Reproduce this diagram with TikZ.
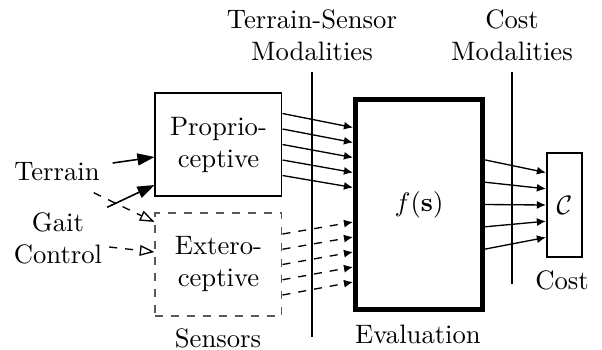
\documentclass[tikz,border=0pt]{standalone}
\usetikzlibrary{arrows.meta,calc}

\begin{document}
\begin{tikzpicture}[x=0.375pt, y=-0.375pt,
  sensor/.style={rectangle, draw, line width=0.6pt, minimum width=47.4pt, minimum height=38.8pt, align=center, inner sep=0pt},
  evalbox/.style={rectangle, draw, line width=1.9pt, minimum width=47.6pt, minimum height=78.75pt, inner sep=0pt},
  costbox/.style={rectangle, draw, line width=0.6pt, minimum width=13.3pt, minimum height=39.2pt, inner sep=0pt},
  lbl/.style={align=center, inner sep=0pt},
  feed/.style={-{Latex[length=3.4pt,width=3pt]}, line width=0.5pt},
  bigarr/.style={-{Triangle[length=6.4pt,width=4.5pt]}, line width=0.6pt},
  openarr/.style={dashed, -{Triangle[open,length=5.5pt,width=4pt]}, line width=0.5pt}
]
  \useasboundingbox (0,0) rectangle (602,349);

  % headers and separators
  \node[lbl] (tsmod) at (312,35) {Terrain-Sensor\\Modalities};
  \node[lbl] (cmod) at (512,35) {Cost\\Modalities};
  \draw[line width=0.5pt] (312,72) -- (312,337);
  \draw[line width=0.5pt] (512,72) -- (512,284);

  % sensors
  \node[sensor] (prop) at (218.5,144.5) {Proprio-\\ceptive};
  \node[sensor, dashed, draw=black!65] (ext) at (218.5,264.5) {Extero-\\ceptive};
  \node[lbl, anchor=base] (sens) at (218,347) {Sensors};

  % evaluation and cost
  \node[evalbox] (eval) at (419,204.5) {$f(\mathbf{s})$};
  \node[lbl, anchor=base] (evl) at (418,343) {Evaluation};
  \node[costbox] (cost) at (564.5,205) {$\mathcal{C}$};
  \node[lbl, anchor=base] (cst) at (562,289) {Cost};

  % inputs
  \node[lbl] (terrain) at (57,172) {Terrain};
  \node[lbl] (gait) at (58,238.5) {Gait\\Control};
  \draw[bigarr] ($(terrain.east)+(12.5,-9)$) -- ($(prop.west)+(0,12.5)$);
  \draw[bigarr] ($(gait.north east)+(4.5,-5)$) -- ($(prop.west)+(0,40.5)$);
  \draw[openarr] ($(terrain.south east)+(-6.5,11)$) -- ($(ext.west)+(0,-42.5)$);
  \draw[openarr] ($(gait.east)+(6.5,8.5)$) -- ($(ext.west)+(0,-12.5)$);

  % sensor modalities into f(s)
  \foreach \i in {-2,...,2}{
    \draw[feed] ($(prop.east)+(0,\i*15.5)$) -- ($(eval.west)+(0,-47+\i*15)$);
    \draw[feed, dashed] ($(ext.east)+(0,\i*15.25)$) -- ($(eval.west)+(0,47.5+\i*15)$);
    \draw[feed] ($(eval.east)+(0,\i*22.3)$) -- ($(cost.west)+(0,\i*16.2)$);
  }
\end{tikzpicture}
\end{document}
